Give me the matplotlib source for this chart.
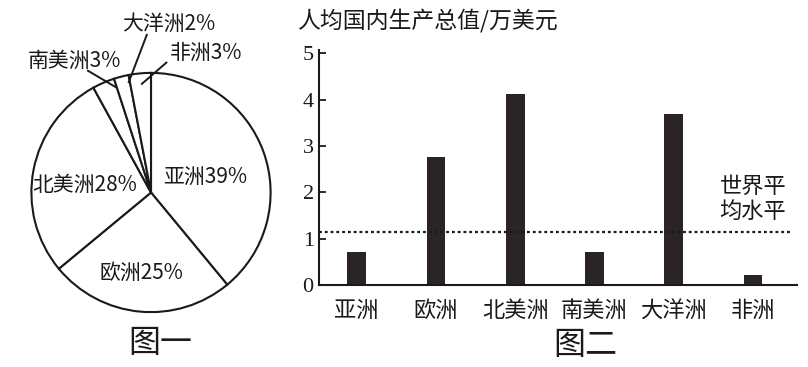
import matplotlib
matplotlib.use("Agg")
import matplotlib.pyplot as plt

plt.rcParams['font.family'] = ['Noto Sans CJK SC', 'DejaVu Sans']

# ---- data ----
pie_labels = ["亚洲", "欧洲", "北美洲", "南美洲", "大洋洲", "非洲"]
pie_shares = [39, 25, 28, 3, 2, 3]

bar_categories = ["亚洲", "欧洲", "北美洲", "南美洲", "大洋洲", "非洲"]
gdp_per_capita = [0.72, 2.77, 4.12, 0.72, 3.69, 0.22]
world_average = 1.15
y_ticks = [0, 1, 2, 3, 4, 5]
y_label = "人均国内生产总值/万美元"

W, H = 808, 367
fig = plt.figure(figsize=(W / 100, H / 100), dpi=100)
fig.patch.set_facecolor("white")

def px_box(x0, y0, x1, y1):
    return [x0 / W, 1 - y1 / H, (x1 - x0) / W, (y1 - y0) / H]

# ---- pie (图一) ----
cx, cy, r = 151, 192.5, 122
axp = fig.add_axes(px_box(cx - r, cy - r, cx + r, cy + r))
axp.pie(pie_shares, startangle=90, counterclock=False, radius=1,
        colors=["white"] * len(pie_shares),
        wedgeprops=dict(edgecolor="#1a1a1a", linewidth=1.5))
axp.set_xlim(-1.02, 1.02)
axp.set_ylim(-1.02, 1.02)
axp.set_aspect("auto")
axp.axis("off")

def d(px, py):
    return ((px - cx) / r, (cy - py) / r)

fs_pie = 15
inner = {0: (206.7, 176.7), 1: (141.7, 275), 2: (83, 185)}
for i, (px, py) in inner.items():
    x, y = d(px, py)
    axp.text(x, y, f"{pie_labels[i]}{pie_shares[i]}%", ha="center", va="center",
             fontsize=fs_pie, color="#1a1a1a")

outer = {
    3: ((72.5, 58.3), (86.7, 68.3), (115, 85)),
    4: ((169, 20.7), (146.7, 31.7), (128.3, 80)),
    5: ((206.7, 50), (166.7, 60), (141.7, 81.7)),
}
for i, (tp, a, b) in outer.items():
    x, y = d(*tp)
    axp.text(x, y, f"{pie_labels[i]}{pie_shares[i]}%", ha="center", va="center",
             fontsize=fs_pie, color="#1a1a1a", clip_on=False)
    (x0, y0), (x1, y1) = d(*a), d(*b)
    axp.plot([x0, x1], [y0, y1], color="#1a1a1a", lw=1.4, clip_on=False)

fig.text(160 / W, 1 - 343 / H, "图一", ha="center", va="center", fontsize=23,
         color="#1a1a1a")

# ---- bars (图二) ----
axb = fig.add_axes(px_box(319.3, 50, 796.7, 285))
xs = list(range(len(bar_categories)))
axb.bar(xs, gdp_per_capita, width=0.236, color="#2a2424")
axb.set_xlim(-0.472, 5.551)
axb.set_ylim(0, 5.07)
axb.axhline(world_average, xmin=0, xmax=0.989, color="#1a1a1a", lw=1.6,
            linestyle=(0, (1.3, 1.3)))
for s in ["top", "right"]:
    axb.spines[s].set_visible(False)
for s in ["left", "bottom"]:
    axb.spines[s].set_linewidth(1.5)
    axb.spines[s].set_color("#1a1a1a")
axb.set_yticks(y_ticks)
axb.set_yticklabels([str(t) for t in y_ticks], family="Liberation Serif",
                    fontsize=16)
axb.tick_params(axis="y", direction="in", length=5, width=1.3, pad=4,
                colors="#1a1a1a")
axb.set_xticks(xs)
axb.set_xticklabels(bar_categories, fontsize=16)
axb.tick_params(axis="x", length=0, pad=10, colors="#1a1a1a")

axb.text(5.0, (285 - 186) / 46.3, "世界平", ha="center", va="center",
         fontsize=16, color="#1a1a1a")
axb.text(5.0, (285 - 212) / 46.3, "均水平", ha="center", va="center",
         fontsize=16, color="#1a1a1a")

fig.text(297 / W, 1 - 21.7 / H, y_label, ha="left", va="center", fontsize=16.5,
         color="#1a1a1a")
fig.text(585.5 / W, 1 - 345 / H, "图二", ha="center", va="center", fontsize=23,
         color="#1a1a1a")

fig.savefig("out.png", dpi=100, facecolor="white")
